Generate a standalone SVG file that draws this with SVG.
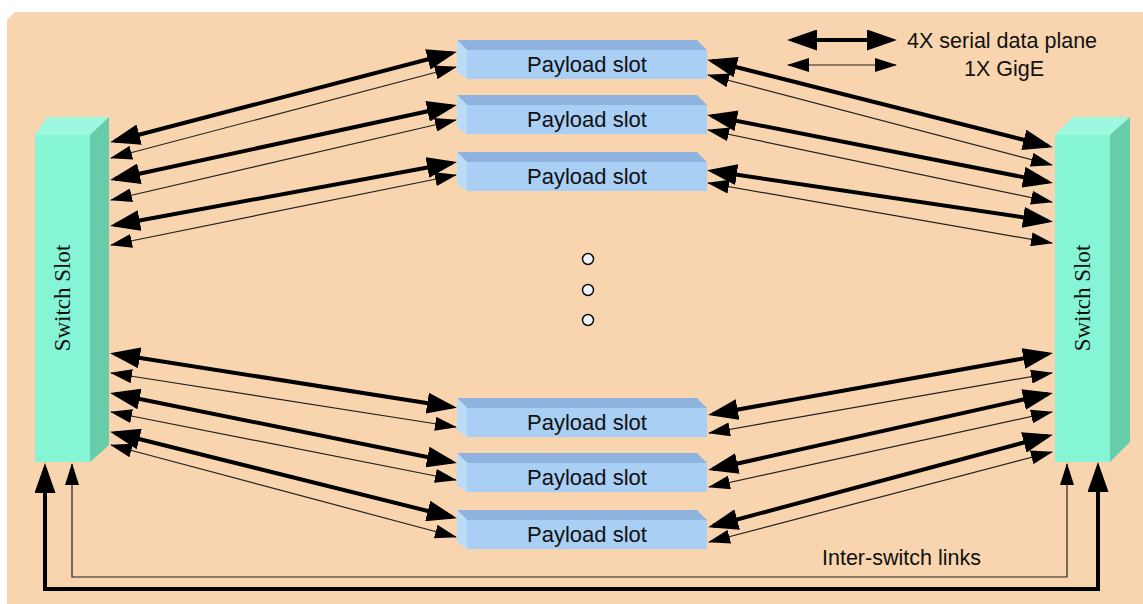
<svg xmlns="http://www.w3.org/2000/svg" width="1143" height="604" viewBox="0 0 1143 604">
<style>
.bg{fill:#F8D5AE}
.sw-front{fill:#86F5D6}
.sw-top{fill:#9CF8DE}
.sw-side{fill:#66CCAA}
.pl-front{fill:#A9CFF5}
.pl-top{fill:#8EB3DE}
.pl-left{fill:#BADCF8}
.pl-text{font-family:"Liberation Sans",Arial,sans-serif;font-size:22px;fill:#111;text-anchor:middle}
.sw-text{font-family:"Liberation Serif","Times New Roman",serif;font-size:23px;fill:#111;text-anchor:middle}
.label{font-family:"Liberation Sans",Arial,sans-serif;font-size:21.5px;fill:#111}
.thick{stroke:#000;stroke-width:4;fill:none;marker-start:url(#hThick);marker-end:url(#hThick)}
.thin{stroke:#222;stroke-width:1.2;fill:none;marker-start:url(#hThin);marker-end:url(#hThin)}
.dot{fill:#EEF3FB;stroke:#111;stroke-width:1.5}
</style>
<defs>
<marker id="hThick" markerUnits="userSpaceOnUse" markerWidth="30" markerHeight="21" refX="25" refY="10.5" orient="auto-start-reverse" viewBox="0 0 30 21">
<path d="M0,0 L30,10.5 L0,21 z" fill="#000"/>
</marker>
<marker id="hThin" markerUnits="userSpaceOnUse" markerWidth="22" markerHeight="14" refX="21" refY="7" orient="auto-start-reverse" viewBox="0 0 22 14">
<path d="M0,0 L22,7 L0,14 z" fill="#000"/>
</marker>
</defs>
<rect width="1143" height="604" fill="#fff"/>
<polygon class="bg" points="15,12 1143,12 1143,604 7,604 7,20"/>

<g id="switch-left">
<rect class="sw-front" x="35" y="135" width="55" height="327"/>
<polygon class="sw-top" points="35,135 47,117 109,117 90,135"/>
<polygon class="sw-side" points="90,135 109,117 109,445 90,462"/>
<text class="sw-text" transform="translate(70,298) rotate(-90)">Switch Slot</text>
</g>
<g id="switch-right">
<rect class="sw-front" x="1055" y="135" width="55" height="327"/>
<polygon class="sw-top" points="1055,135 1073,117 1130,117 1110,135"/>
<polygon class="sw-side" points="1110,135 1130,117 1130,442 1110,462"/>
<text class="sw-text" transform="translate(1090,298) rotate(-90)">Switch Slot</text>
</g>

<g id="payload-1">
<polygon class="pl-top" points="457,40 697,40 707,50 467,50"/>
<polygon class="pl-left" points="457,40 467,50 467,79 457,72"/>
<rect class="pl-front" x="467" y="50" width="240" height="29"/>
<text class="pl-text" x="587" y="72">Payload slot</text>
</g>
<g id="payload-2">
<polygon class="pl-top" points="457,95 697,95 707,105 467,105"/>
<polygon class="pl-left" points="457,95 467,105 467,134 457,127"/>
<rect class="pl-front" x="467" y="105" width="240" height="29"/>
<text class="pl-text" x="587" y="127">Payload slot</text>
</g>
<g id="payload-3">
<polygon class="pl-top" points="457,152 697,152 707,162 467,162"/>
<polygon class="pl-left" points="457,152 467,162 467,191 457,184"/>
<rect class="pl-front" x="467" y="162" width="240" height="29"/>
<text class="pl-text" x="587" y="184">Payload slot</text>
</g>
<g id="payload-4">
<polygon class="pl-top" points="457,398 697,398 707,408 467,408"/>
<polygon class="pl-left" points="457,398 467,408 467,437 457,430"/>
<rect class="pl-front" x="467" y="408" width="240" height="29"/>
<text class="pl-text" x="587" y="430">Payload slot</text>
</g>
<g id="payload-5">
<polygon class="pl-top" points="457,453 697,453 707,463 467,463"/>
<polygon class="pl-left" points="457,453 467,463 467,492 457,485"/>
<rect class="pl-front" x="467" y="463" width="240" height="29"/>
<text class="pl-text" x="587" y="485">Payload slot</text>
</g>
<g id="payload-6">
<polygon class="pl-top" points="457,510 697,510 707,520 467,520"/>
<polygon class="pl-left" points="457,510 467,520 467,549 457,542"/>
<rect class="pl-front" x="467" y="520" width="240" height="29"/>
<text class="pl-text" x="587" y="542">Payload slot</text>
</g>

<g id="ellipsis">
<circle class="dot" cx="588" cy="259" r="5.5"/>
<circle class="dot" cx="588" cy="290" r="5.5"/>
<circle class="dot" cx="588" cy="320" r="5.5"/>
</g>

<g id="connectors">
<line class="thick" x1="115" y1="141" x2="452" y2="53"/>
<line class="thin" x1="111" y1="158" x2="456" y2="67"/>
<line class="thick" x1="115" y1="179" x2="452" y2="106"/>
<line class="thin" x1="111" y1="200" x2="456" y2="120"/>
<line class="thick" x1="115" y1="225" x2="452" y2="163"/>
<line class="thin" x1="111" y1="245" x2="456" y2="175"/>

<line class="thick" x1="712" y1="61" x2="1048" y2="146"/>
<line class="thin" x1="708" y1="75" x2="1052" y2="165"/>
<line class="thick" x1="712" y1="116" x2="1048" y2="182"/>
<line class="thin" x1="708" y1="130" x2="1052" y2="202"/>
<line class="thick" x1="712" y1="171" x2="1048" y2="221"/>
<line class="thin" x1="708" y1="183" x2="1052" y2="243"/>

<line class="thick" x1="115" y1="354" x2="452" y2="407"/>
<line class="thin" x1="111" y1="373" x2="456" y2="427"/>
<line class="thick" x1="115" y1="394" x2="452" y2="462"/>
<line class="thin" x1="111" y1="412" x2="456" y2="480"/>
<line class="thick" x1="115" y1="433" x2="452" y2="517"/>
<line class="thin" x1="111" y1="445" x2="456" y2="537"/>

<line class="thick" x1="713" y1="414" x2="1048" y2="354"/>
<line class="thin" x1="709" y1="433" x2="1052" y2="373"/>
<line class="thick" x1="713" y1="469" x2="1048" y2="394"/>
<line class="thin" x1="709" y1="487" x2="1052" y2="412"/>
<line class="thick" x1="713" y1="526" x2="1048" y2="436"/>
<line class="thin" x1="709" y1="542" x2="1052" y2="452"/>

<path class="thick" d="M45,468 V589 H1098 V467"/>
<path class="thin" d="M72,464 V577 H1067 V464"/>

<line class="thick" x1="792" y1="40" x2="892" y2="40"/>
<line class="thin" x1="788" y1="65" x2="896" y2="65"/>
</g>

<g id="labels">
<text class="label" x="907" y="48">4X serial data plane</text>
<text class="label" x="1004" y="76" text-anchor="middle">1X GigE</text>
<text class="label" x="822" y="565">Inter-switch links</text>
</g>
</svg>
